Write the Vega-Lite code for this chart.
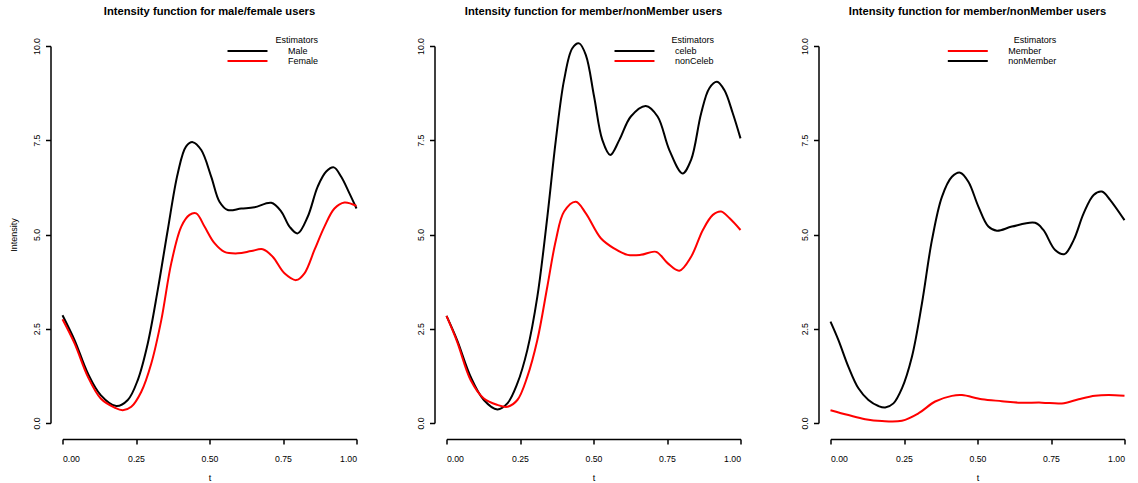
{
  "$schema": "https://vega.github.io/schema/vega-lite/v6.json",
  "background": "white",
  "padding": {"left": 8.5, "top": 6, "right": 5, "bottom": 0},
  "config": {
    "view": {"stroke": null},
    "font": "Liberation Sans",
    "axis": {
      "domainColor": "black", "domainWidth": 1.5, "tickColor": "black", "tickWidth": 1.5, "tickSize": 5,
      "labelColor": "black", "labelFont": "Liberation Sans", "labelFontSize": 8.7,
      "titleColor": "black", "titleFont": "Liberation Sans", "titleFontSize": 9, "titleFontWeight": "normal",
      "grid": false
    },
    "legend": {
      "labelFont": "Liberation Sans", "labelFontSize": 9, "labelColor": "black",
      "titleFont": "Liberation Sans", "titleFontSize": 9, "titleFontWeight": "normal", "titleColor": "black",
      "padding": 0, "rowPadding": 0, "titlePadding": 1.5, "titleAnchor": "end",
      "symbolType": "M-5.71,0H5.71", "symbolSize": 49, "symbolStrokeWidth": 2, "labelOffset": 36
    },
    "title": {"font": "Liberation Sans", "fontSize": 11.2, "fontWeight": "bold", "color": "black", "frame": "group", "anchor": "middle", "baseline": "alphabetic", "offset": 18.5}
  },
  "datasets": {
    "p1": [
      {"t": 0, "v": 2.86, "s": "Male"}, {"t": 0.041, "v": 2.2, "s": "Male"}, {"t": 0.086, "v": 1.32, "s": "Male"}, {"t": 0.13, "v": 0.74, "s": "Male"}, {"t": 0.183, "v": 0.45, "s": "Male"}, {"t": 0.222, "v": 0.61, "s": "Male"}, {"t": 0.256, "v": 1.14, "s": "Male"}, {"t": 0.29, "v": 2.11, "s": "Male"}, {"t": 0.324, "v": 3.53, "s": "Male"}, {"t": 0.358, "v": 5.12, "s": "Male"}, {"t": 0.392, "v": 6.62, "s": "Male"}, {"t": 0.42, "v": 7.33, "s": "Male"}, {"t": 0.443, "v": 7.45, "s": "Male"}, {"t": 0.472, "v": 7.24, "s": "Male"}, {"t": 0.506, "v": 6.53, "s": "Male"}, {"t": 0.534, "v": 5.87, "s": "Male"}, {"t": 0.562, "v": 5.65, "s": "Male"}, {"t": 0.608, "v": 5.69, "s": "Male"}, {"t": 0.653, "v": 5.72, "s": "Male"}, {"t": 0.71, "v": 5.84, "s": "Male"}, {"t": 0.744, "v": 5.61, "s": "Male"}, {"t": 0.772, "v": 5.21, "s": "Male"}, {"t": 0.8, "v": 5.03, "s": "Male"}, {"t": 0.834, "v": 5.47, "s": "Male"}, {"t": 0.868, "v": 6.27, "s": "Male"}, {"t": 0.897, "v": 6.67, "s": "Male"}, {"t": 0.923, "v": 6.78, "s": "Male"}, {"t": 0.948, "v": 6.53, "s": "Male"}, {"t": 0.976, "v": 6.09, "s": "Male"}, {"t": 1, "v": 5.69, "s": "Male"},
      {"t": 0, "v": 2.75, "s": "Female"}, {"t": 0.041, "v": 2.11, "s": "Female"}, {"t": 0.086, "v": 1.23, "s": "Female"}, {"t": 0.13, "v": 0.65, "s": "Female"}, {"t": 0.177, "v": 0.41, "s": "Female"}, {"t": 0.205, "v": 0.34, "s": "Female"}, {"t": 0.234, "v": 0.43, "s": "Female"}, {"t": 0.268, "v": 0.83, "s": "Female"}, {"t": 0.302, "v": 1.58, "s": "Female"}, {"t": 0.336, "v": 2.73, "s": "Female"}, {"t": 0.37, "v": 4.24, "s": "Female"}, {"t": 0.404, "v": 5.21, "s": "Female"}, {"t": 0.432, "v": 5.52, "s": "Female"}, {"t": 0.455, "v": 5.56, "s": "Female"}, {"t": 0.483, "v": 5.21, "s": "Female"}, {"t": 0.517, "v": 4.77, "s": "Female"}, {"t": 0.551, "v": 4.54, "s": "Female"}, {"t": 0.596, "v": 4.5, "s": "Female"}, {"t": 0.642, "v": 4.56, "s": "Female"}, {"t": 0.681, "v": 4.61, "s": "Female"}, {"t": 0.715, "v": 4.41, "s": "Female"}, {"t": 0.755, "v": 3.97, "s": "Female"}, {"t": 0.795, "v": 3.79, "s": "Female"}, {"t": 0.823, "v": 3.97, "s": "Female"}, {"t": 0.857, "v": 4.59, "s": "Female"}, {"t": 0.891, "v": 5.21, "s": "Female"}, {"t": 0.925, "v": 5.69, "s": "Female"}, {"t": 0.959, "v": 5.85, "s": "Female"}, {"t": 1, "v": 5.76, "s": "Female"}
    ],
    "p2": [
      {"t": 0, "v": 2.84, "s": "celeb"}, {"t": 0.036, "v": 2.2, "s": "celeb"}, {"t": 0.082, "v": 1.23, "s": "celeb"}, {"t": 0.127, "v": 0.61, "s": "celeb"}, {"t": 0.173, "v": 0.36, "s": "celeb"}, {"t": 0.207, "v": 0.52, "s": "celeb"}, {"t": 0.241, "v": 1.05, "s": "celeb"}, {"t": 0.275, "v": 1.94, "s": "celeb"}, {"t": 0.309, "v": 3.35, "s": "celeb"}, {"t": 0.343, "v": 5.47, "s": "celeb"}, {"t": 0.372, "v": 7.51, "s": "celeb"}, {"t": 0.4, "v": 9.1, "s": "celeb"}, {"t": 0.428, "v": 9.94, "s": "celeb"}, {"t": 0.451, "v": 10.07, "s": "celeb"}, {"t": 0.474, "v": 9.76, "s": "celeb"}, {"t": 0.502, "v": 8.66, "s": "celeb"}, {"t": 0.53, "v": 7.51, "s": "celeb"}, {"t": 0.557, "v": 7.11, "s": "celeb"}, {"t": 0.588, "v": 7.51, "s": "celeb"}, {"t": 0.627, "v": 8.13, "s": "celeb"}, {"t": 0.678, "v": 8.41, "s": "celeb"}, {"t": 0.718, "v": 8.13, "s": "celeb"}, {"t": 0.758, "v": 7.24, "s": "celeb"}, {"t": 0.803, "v": 6.62, "s": "celeb"}, {"t": 0.832, "v": 6.98, "s": "celeb"}, {"t": 0.866, "v": 8.21, "s": "celeb"}, {"t": 0.894, "v": 8.88, "s": "celeb"}, {"t": 0.92, "v": 9.05, "s": "celeb"}, {"t": 0.945, "v": 8.83, "s": "celeb"}, {"t": 0.974, "v": 8.21, "s": "celeb"}, {"t": 1, "v": 7.55, "s": "celeb"},
      {"t": 0, "v": 2.84, "s": "nonCeleb"}, {"t": 0.036, "v": 2.16, "s": "nonCeleb"}, {"t": 0.082, "v": 1.14, "s": "nonCeleb"}, {"t": 0.127, "v": 0.65, "s": "nonCeleb"}, {"t": 0.173, "v": 0.48, "s": "nonCeleb"}, {"t": 0.207, "v": 0.43, "s": "nonCeleb"}, {"t": 0.241, "v": 0.61, "s": "nonCeleb"}, {"t": 0.275, "v": 1.23, "s": "nonCeleb"}, {"t": 0.309, "v": 2.2, "s": "nonCeleb"}, {"t": 0.343, "v": 3.62, "s": "nonCeleb"}, {"t": 0.372, "v": 4.85, "s": "nonCeleb"}, {"t": 0.4, "v": 5.61, "s": "nonCeleb"}, {"t": 0.44, "v": 5.87, "s": "nonCeleb"}, {"t": 0.474, "v": 5.56, "s": "nonCeleb"}, {"t": 0.525, "v": 4.9, "s": "nonCeleb"}, {"t": 0.57, "v": 4.63, "s": "nonCeleb"}, {"t": 0.616, "v": 4.46, "s": "nonCeleb"}, {"t": 0.661, "v": 4.46, "s": "nonCeleb"}, {"t": 0.713, "v": 4.54, "s": "nonCeleb"}, {"t": 0.752, "v": 4.24, "s": "nonCeleb"}, {"t": 0.792, "v": 4.04, "s": "nonCeleb"}, {"t": 0.832, "v": 4.41, "s": "nonCeleb"}, {"t": 0.872, "v": 5.12, "s": "nonCeleb"}, {"t": 0.906, "v": 5.52, "s": "nonCeleb"}, {"t": 0.934, "v": 5.61, "s": "nonCeleb"}, {"t": 0.963, "v": 5.43, "s": "nonCeleb"}, {"t": 1, "v": 5.12, "s": "nonCeleb"}
    ],
    "p3": [
      {"t": 0, "v": 0.34, "s": "Member"}, {"t": 0.061, "v": 0.21, "s": "Member"}, {"t": 0.118, "v": 0.1, "s": "Member"}, {"t": 0.175, "v": 0.05, "s": "Member"}, {"t": 0.243, "v": 0.06, "s": "Member"}, {"t": 0.3, "v": 0.26, "s": "Member"}, {"t": 0.356, "v": 0.57, "s": "Member"}, {"t": 0.413, "v": 0.72, "s": "Member"}, {"t": 0.447, "v": 0.74, "s": "Member"}, {"t": 0.515, "v": 0.63, "s": "Member"}, {"t": 0.583, "v": 0.58, "s": "Member"}, {"t": 0.639, "v": 0.54, "s": "Member"}, {"t": 0.719, "v": 0.54, "s": "Member"}, {"t": 0.787, "v": 0.52, "s": "Member"}, {"t": 0.844, "v": 0.63, "s": "Member"}, {"t": 0.9, "v": 0.72, "s": "Member"}, {"t": 0.946, "v": 0.74, "s": "Member"}, {"t": 1, "v": 0.72, "s": "Member"},
      {"t": 0, "v": 2.69, "s": "nonMember"}, {"t": 0.027, "v": 2.2, "s": "nonMember"}, {"t": 0.061, "v": 1.49, "s": "nonMember"}, {"t": 0.095, "v": 0.92, "s": "nonMember"}, {"t": 0.129, "v": 0.61, "s": "nonMember"}, {"t": 0.163, "v": 0.45, "s": "nonMember"}, {"t": 0.186, "v": 0.41, "s": "nonMember"}, {"t": 0.214, "v": 0.52, "s": "nonMember"}, {"t": 0.243, "v": 0.92, "s": "nonMember"}, {"t": 0.277, "v": 1.76, "s": "nonMember"}, {"t": 0.311, "v": 3.17, "s": "nonMember"}, {"t": 0.345, "v": 4.85, "s": "nonMember"}, {"t": 0.379, "v": 6.0, "s": "nonMember"}, {"t": 0.413, "v": 6.53, "s": "nonMember"}, {"t": 0.441, "v": 6.64, "s": "nonMember"}, {"t": 0.469, "v": 6.4, "s": "nonMember"}, {"t": 0.503, "v": 5.74, "s": "nonMember"}, {"t": 0.537, "v": 5.21, "s": "nonMember"}, {"t": 0.566, "v": 5.1, "s": "nonMember"}, {"t": 0.617, "v": 5.21, "s": "nonMember"}, {"t": 0.696, "v": 5.31, "s": "nonMember"}, {"t": 0.724, "v": 5.12, "s": "nonMember"}, {"t": 0.764, "v": 4.59, "s": "nonMember"}, {"t": 0.796, "v": 4.48, "s": "nonMember"}, {"t": 0.827, "v": 4.85, "s": "nonMember"}, {"t": 0.861, "v": 5.56, "s": "nonMember"}, {"t": 0.895, "v": 6.05, "s": "nonMember"}, {"t": 0.923, "v": 6.14, "s": "nonMember"}, {"t": 0.951, "v": 5.92, "s": "nonMember"}, {"t": 1, "v": 5.38, "s": "nonMember"}
    ]
  },
  "hconcat": [
    {
      "title": "Intensity function for male/female users",
      "width": 294, "height": 377,
      "data": {"name": "p1"},
      "mark": {"type": "line", "strokeWidth": 2, "interpolate": "catmull-rom", "clip": false},
      "encoding": {
        "x": {"field": "t", "type": "quantitative", "scale": {"domain": [0, 1], "nice": false, "zero": false},
              "axis": {"title": "t", "values": [0, 0.25, 0.5, 0.75, 1], "format": ".2f", "offset": 16, "labelPadding": 10, "titlePadding": 11}},
        "y": {"field": "v", "type": "quantitative", "scale": {"domain": [0, 10], "nice": false},
              "axis": {"title": "Intensity", "values": [0, 2.5, 5, 7.5, 10], "format": ".1f", "offset": 12, "labelAngle": -90, "labelAlign": "center", "labelBaseline": "bottom", "labelPadding": 4, "titlePadding": 14.5}},
        "color": {"field": "s", "type": "nominal", "sort": ["Male", "Female"],
                  "scale": {"domain": ["Male", "Female"], "range": ["#000000", "#ff0000"]},
                  "legend": {"title": "Estimators\u00a0\u00a0", "orient": "none", "legendX": 180.5, "legendY": -10}}
      }
    },
    {
      "title": "Intensity function for member/nonMember users",
      "width": 294, "height": 377,
      "data": {"name": "p2"},
      "mark": {"type": "line", "strokeWidth": 2, "interpolate": "catmull-rom", "clip": false},
      "encoding": {
        "x": {"field": "t", "type": "quantitative", "scale": {"domain": [0, 1], "nice": false, "zero": false},
              "axis": {"title": "t", "values": [0, 0.25, 0.5, 0.75, 1], "format": ".2f", "offset": 16, "labelPadding": 10, "titlePadding": 11}},
        "y": {"field": "v", "type": "quantitative", "scale": {"domain": [0, 10], "nice": false},
              "axis": {"title": null, "values": [0, 2.5, 5, 7.5, 10], "format": ".1f", "offset": 12, "labelAngle": -90, "labelAlign": "center", "labelBaseline": "bottom", "labelPadding": 4}},
        "color": {"field": "s", "type": "nominal", "sort": ["celeb", "nonCeleb"],
                  "scale": {"domain": ["celeb", "nonCeleb"], "range": ["#000000", "#ff0000"]},
                  "legend": {"title": "Estimators\u00a0\u00a0", "orient": "none", "legendX": 183.5, "legendY": -10}}
      }
    },
    {
      "title": "Intensity function for member/nonMember users",
      "width": 294, "height": 377,
      "data": {"name": "p3"},
      "mark": {"type": "line", "strokeWidth": 2, "interpolate": "catmull-rom", "clip": false},
      "encoding": {
        "x": {"field": "t", "type": "quantitative", "scale": {"domain": [0, 1], "nice": false, "zero": false},
              "axis": {"title": "t", "values": [0, 0.25, 0.5, 0.75, 1], "format": ".2f", "offset": 16, "labelPadding": 10, "titlePadding": 11}},
        "y": {"field": "v", "type": "quantitative", "scale": {"domain": [0, 10], "nice": false},
              "axis": {"title": null, "values": [0, 2.5, 5, 7.5, 10], "format": ".1f", "offset": 12, "labelAngle": -90, "labelAlign": "center", "labelBaseline": "bottom", "labelPadding": 4}},
        "color": {"field": "s", "type": "nominal", "sort": ["Member", "nonMember"],
                  "scale": {"domain": ["Member", "nonMember"], "range": ["#ff0000", "#000000"]},
                  "legend": {"title": "Estimators\u00a0\u00a0", "orient": "none", "legendX": 132.8, "legendY": -10}}
      }
    }
  ],
  "spacing": 90,
  "bounds": "flush",
  "resolve": {"scale": {"color": "independent", "x": "independent", "y": "independent"}, "legend": {"color": "independent"}}
}
